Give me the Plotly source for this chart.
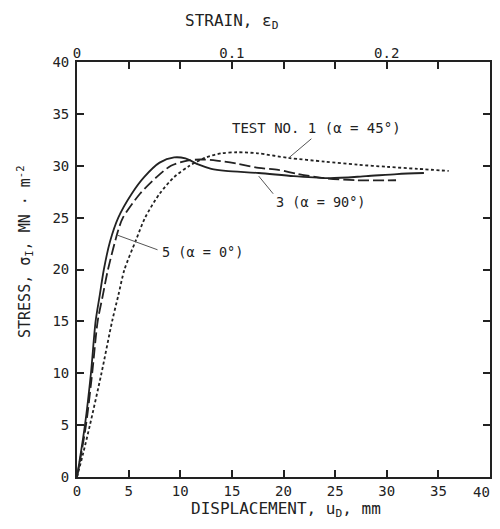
import plotly.graph_objects as go

# ---- data (displacement u_D in mm, stress sigma_1 in MN m^-2) ----
disp_test3 = [0, 0.77, 1.35, 1.8, 2.2, 2.6, 3.2, 4.0, 5.3, 6.5, 8.0, 9.4, 10.5, 11.8,
              13.0, 14.4, 17.6, 21.0, 24.5, 28.0, 31.0, 33.6]
stress_test3 = [0, 5, 10, 15, 17.5, 20, 22.7, 25, 27.3, 28.9, 30.3, 30.8, 30.7, 30.1,
                29.7, 29.5, 29.3, 29.0, 28.8, 29.0, 29.2, 29.3]

disp_test5 = [0, 0.87, 1.47, 2.0, 2.5, 3.0, 4.0, 4.45, 6.1, 7.7, 9.1, 10.7, 12.0, 13.5,
              15.5, 17.6, 19.5, 21.4, 24.0, 27.0, 30.9]
stress_test5 = [0, 5, 10, 15, 17.5, 20, 23.8, 25, 27.3, 28.9, 30.0, 30.5, 30.6, 30.5,
                30.2, 29.8, 29.6, 29.2, 28.8, 28.6, 28.6]

disp_test1 = [0, 0.6, 1.25, 2.37, 3.4, 4.0, 4.6, 5.7, 6.6, 8.0, 9.4, 10.9, 12.5, 14.0,
              15.5, 17.5, 20.5, 24.0, 27.2, 30.0, 33.0, 36.0]
stress_test1 = [0, 2.3, 5, 10, 15, 17.5, 20, 22.8, 25, 27.3, 28.9, 30.0, 30.8, 31.2,
                31.3, 31.2, 30.75, 30.4, 30.1, 29.9, 29.7, 29.5]

x_ticks = [0, 5, 10, 15, 20, 25, 30, 35, 40]
x_tick_labels = ["0", "5", "10", "15", "20", "25", "30", "35", "40"]
y_ticks = [0, 5, 10, 15, 20, 25, 30, 35, 40]
strain_ticks = [0, 0.1, 0.2]
strain_tick_labels = ["0", "0.1", "0.2"]
gauge_length = 150.0  # mm, strain = displacement / gauge length

labels = ["TEST NO. 1 (α = 45°)", "3 (α = 90°)", "5 (α = 0°)"]

FONT = "DejaVu Sans Mono, Liberation Mono, monospace"
INK = "#222"

# the page body has an 8px default margin; keep the figure inside the window
OFF = 8
W, H = 500 - 2 * OFF, 529 - 2 * OFF
L, T = 77 - OFF, 62 - OFF
R = 2
B = H - (477 - OFF)


def px_to_paper(px, py):
    """screen pixel (reference coordinates) -> paper coords"""
    fx, fy = px - OFF, py - OFF
    return (fx - L) / (W - L - R), 1 - (fy - T) / (H - T - B)


fig = go.Figure()
fig.add_trace(go.Scatter(x=disp_test1, y=stress_test1, mode="lines", line_shape="spline",
                         line=dict(color=INK, width=1.8, dash="3px,2.5px", smoothing=0.8),
                         name="1"))
fig.add_trace(go.Scatter(x=disp_test5, y=stress_test5, mode="lines", line_shape="spline",
                         line=dict(color=INK, width=1.8, dash="11px,4px", smoothing=0.8),
                         name="5"))
fig.add_trace(go.Scatter(x=disp_test3, y=stress_test3, mode="lines", line_shape="spline",
                         line=dict(color=INK, width=1.8, smoothing=0.8), name="3"))
# invisible trace to activate top (strain) axis
fig.add_trace(go.Scatter(x=[0, 40 / gauge_length], y=[0, 0], xaxis="x2", mode="lines",
                         line=dict(width=0), hoverinfo="skip", showlegend=False))

# leader lines
leaders = [((20.5, 30.75), (22.7, 32.6)),
           ((17.6, 29.0), (19.0, 27.3)),
           ((3.94, 23.3), (7.8, 21.9))]
for (x0, y0), (x1, y1) in leaders:
    fig.add_shape(type="line", x0=x0, y0=y0, x1=x1, y1=y1, xref="x", yref="y",
                  line=dict(color="#555", width=1))

lab_font = dict(family=FONT, size=13.5, color=INK)
fig.add_annotation(x=14.8, y=33.6, text=labels[0], showarrow=False, xanchor="left",
                   font=dict(family=FONT, size=14, color=INK))
fig.add_annotation(x=19.1, y=26.5, text=labels[1], showarrow=False, xanchor="left",
                   font=lab_font)
fig.add_annotation(x=8.0, y=21.7, text=labels[2], showarrow=False, xanchor="left",
                   font=lab_font)

# last bottom tick label drawn right-aligned so it stays inside the page
fig.add_annotation(x=x_ticks[-1], y=0, xref="x", yref="y", text=x_tick_labels[-1],
                   showarrow=False, xanchor="right", yanchor="top", xshift=2, yshift=-5,
                   font=dict(family=FONT, size=14, color=INK))

# axis titles as annotations (placed like the reference)
tx, ty = px_to_paper(183, 21)
fig.add_annotation(x=tx, y=ty, xref="paper", yref="paper", text="STRAIN, ε<sub>D</sub>",
                   showarrow=False, xanchor="left", yanchor="middle",
                   font=dict(family=FONT, size=16, color=INK))
bx, by = px_to_paper(286, 509)
fig.add_annotation(x=bx, y=by, xref="paper", yref="paper",
                   text="DISPLACEMENT, u<sub>D</sub>, mm", showarrow=False,
                   xanchor="center", yanchor="middle",
                   font=dict(family=FONT, size=16, color=INK))
lx, ly = px_to_paper(25, 252)
fig.add_annotation(x=lx, y=ly, xref="paper", yref="paper",
                   text="STRESS, σ<sub>I</sub>, MN · m<sup>-2</sup>", showarrow=False,
                   textangle=-90, xanchor="center", yanchor="middle",
                   font=dict(family=FONT, size=15, color=INK))

axis_common = dict(showgrid=False, zeroline=False, showline=True, linecolor=INK,
                   linewidth=1.8, ticks="inside", ticklen=7, tickwidth=1.5, tickcolor=INK,
                   automargin=False, ticklabeloverflow="allow",
                   tickfont=dict(family=FONT, size=14, color=INK))

fig.update_layout(
    width=W, height=H,
    margin=dict(l=L, r=R, t=T, b=B, autoexpand=False),
    paper_bgcolor="white", plot_bgcolor="white",
    showlegend=False,
    xaxis=dict(range=[0, 40], tickvals=x_ticks,
               ticktext=x_tick_labels[:-1] + [""], mirror="ticks", **axis_common),
    yaxis=dict(range=[0, 40], tickvals=y_ticks, mirror="ticks", ticklabelstandoff=3,
               **axis_common),
    xaxis2=dict(range=[0, 40 / gauge_length], overlaying="x", side="top",
                tickvals=strain_ticks, ticktext=strain_tick_labels, showgrid=False,
                zeroline=False, showline=False, ticks="", automargin=False,
                ticklabeloverflow="allow",
                tickfont=dict(family=FONT, size=14, color=INK)),
)

fig.write_html("out.html")
